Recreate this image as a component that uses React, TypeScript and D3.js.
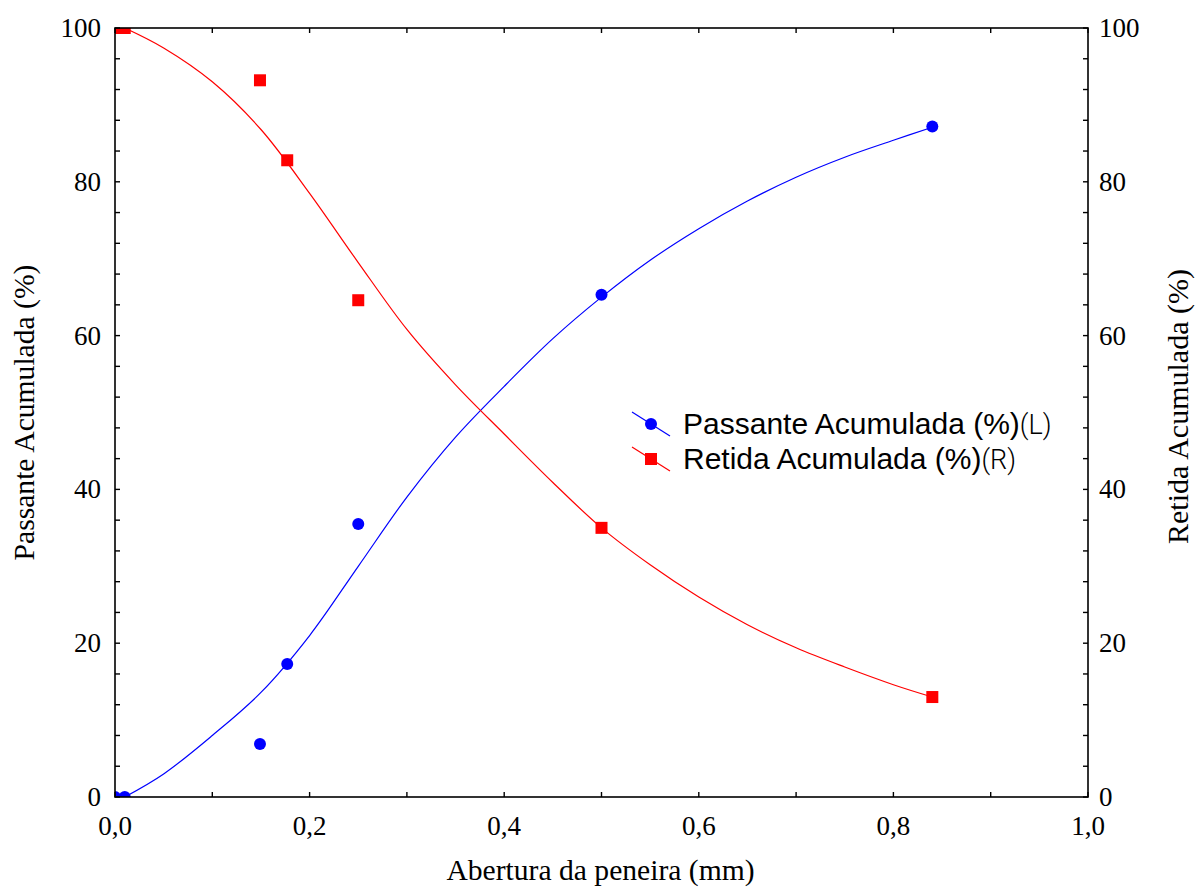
import React from "react";
import * as d3 from "d3";

// ---- data ----
const sieveOpening = [0, 0.01, 0.149, 0.177, 0.25, 0.5, 0.84];
const passante = [0, 0, 6.9, 17.3, 35.5, 65.3, 87.2];
const retida = [100, 100, 93.2, 82.8, 64.6, 35.0, 13.0];

// fitted curves
const fitX = [0.01, 0.05, 0.1, 0.15, 0.2, 0.25, 0.3, 0.35, 0.4, 0.45, 0.5, 0.55, 0.6, 0.65, 0.7, 0.75, 0.8, 0.84];
const fitPassante = [0, 3.0, 8.0, 13.6, 21.0, 30.0, 39.0, 46.8, 53.4, 59.6, 65.0, 69.8, 73.9, 77.5, 80.6, 83.2, 85.4, 87.1];
const fitRetida = [100, 97.4, 93.0, 86.8, 78.5, 69.5, 60.8, 53.6, 47.2, 40.9, 35.0, 30.2, 26.0, 22.4, 19.4, 16.9, 14.6, 13.0];

const xTickLabels = [0, 0.2, 0.4, 0.6, 0.8, 1.0];
const yTickLabels = [0, 20, 40, 60, 80, 100];
const xMinorTicks = d3.range(0, 1.0001, 0.1);
const yMinorTicks = d3.range(0, 100.001, 4);

const xTitle = "Abertura da peneira (mm)";
const yLeftTitle = "Passante Acumulada (%)";
const yRightTitle = "Retida Acumulada (%)";
const legendNames = ["Passante Acumulada (%)", "Retida Acumulada (%)"];
const legendSuffix = ["(L)", "(R)"];

const W = 1197;
const H = 888;
const L = 115, R = 1088, T = 28, B = 797;

export default function App() {
  const x = d3.scaleLinear().domain([0, 1]).range([L, R]);
  const yL = d3.scaleLinear().domain([0, 100]).range([B, T]);
  const yR = d3.scaleLinear().domain([0, 100]).range([B, T]);
  const fmt = (v: number) => d3.format(".1f")(v).replace(".", ",");

  const line = d3.line<[number, number]>().curve(d3.curveCatmullRom.alpha(0.5));
  const passPath = line(fitX.map((v, i) => [x(v), yL(fitPassante[i])]) as [number, number][]) || "";
  const retPath = line(fitX.map((v, i) => [x(v), yR(fitRetida[i])]) as [number, number][]) || "";

  const tick = 5;
  const serif = "'Liberation Serif', 'Times New Roman', serif";
  const sans = "'Liberation Sans', Arial, sans-serif";

  return (
    <div style={{ position: "absolute", left: 0, top: 0 }}>
      <svg width={W} height={H} style={{ display: "block", background: "#fff" }}>
        <defs>
          <clipPath id="plot">
            <rect x={L} y={T} width={R - L} height={B - T} />
          </clipPath>
        </defs>
        {/* curves */}
        <g clipPath="url(#plot)">
          <path d={passPath} fill="none" stroke="#0000ff" strokeWidth={1.2} />
          <path d={retPath} fill="none" stroke="#ff0000" strokeWidth={1.2} />
          {sieveOpening.map((v, i) => (
            <circle key={"p" + i} cx={x(v)} cy={yL(passante[i])} r={6} fill="#0000ff" />
          ))}
          {sieveOpening.map((v, i) => (
            <rect key={"r" + i} x={x(v) - 6} y={yR(retida[i]) - 6} width={12} height={12} fill="#ff0000" />
          ))}
        </g>
        {/* frame */}
        <rect x={L} y={T} width={R - L} height={B - T} fill="none" stroke="#000" strokeWidth={1.6} />
        {/* ticks */}
        {xMinorTicks.map((v, i) => (
          <g key={"xt" + i}>
            <line x1={x(v)} x2={x(v)} y1={B} y2={B - tick} stroke="#000" strokeWidth={1.4} />
            <line x1={x(v)} x2={x(v)} y1={T} y2={T + tick} stroke="#000" strokeWidth={1.4} />
          </g>
        ))}
        {yMinorTicks.map((v, i) => (
          <g key={"yt" + i}>
            <line x1={L} x2={L + tick} y1={yL(v)} y2={yL(v)} stroke="#000" strokeWidth={1.4} />
            <line x1={R} x2={R - tick} y1={yR(v)} y2={yR(v)} stroke="#000" strokeWidth={1.4} />
          </g>
        ))}
        {/* tick labels */}
        {xTickLabels.map((v, i) => (
          <text key={"xl" + i} x={x(v)} y={835} textAnchor="middle" fontFamily={serif} fontSize={27} fill="#000">
            {fmt(v)}
          </text>
        ))}
        {yTickLabels.map((v, i) => (
          <text key={"yl" + i} x={L - 14} y={yL(v) + 9} textAnchor="end" fontFamily={serif} fontSize={27} fill="#000">
            {v}
          </text>
        ))}
        {yTickLabels.map((v, i) => (
          <text key={"yr" + i} x={R + 11} y={yR(v) + 9} textAnchor="start" fontFamily={serif} fontSize={27} fill="#000">
            {v}
          </text>
        ))}
        {/* axis titles */}
        <text x={(L + R) / 2 - 1} y={880} textAnchor="middle" fontFamily={serif} fontSize={29.6} fill="#000">
          {xTitle}
        </text>
        <text transform={`translate(34, ${(T + B) / 2}) rotate(-90)`} textAnchor="middle" fontFamily={serif} fontSize={29.6} fill="#000">
          {yLeftTitle}
        </text>
        <text transform={`translate(1188, ${(T + B) / 2 - 6}) rotate(-90)`} textAnchor="middle" fontFamily={serif} fontSize={30} fill="#000">
          {yRightTitle}
        </text>
        {/* legend */}
        {legendNames.map((name, i) => {
          const cy = i === 0 ? 424 : 459;
          const color = i === 0 ? "#0000ff" : "#ff0000";
          return (
            <g key={"lg" + i}>
              <line x1={632} y1={cy - 12} x2={670} y2={cy + 12} stroke={color} strokeWidth={1.2} />
              {i === 0 ? (
                <circle cx={651} cy={cy} r={6} fill={color} />
              ) : (
                <rect x={645} y={cy - 6} width={12} height={12} fill={color} />
              )}
              <text x={683} y={cy + 10} fontFamily={sans} fontSize={30} fill="#000">
                {name}
                <tspan fontFamily="Roboto, sans-serif" fontWeight={300} fontSize={27}>{legendSuffix[i]}</tspan>
              </text>
            </g>
          );
        })}
      </svg>
    </div>
  );
}
